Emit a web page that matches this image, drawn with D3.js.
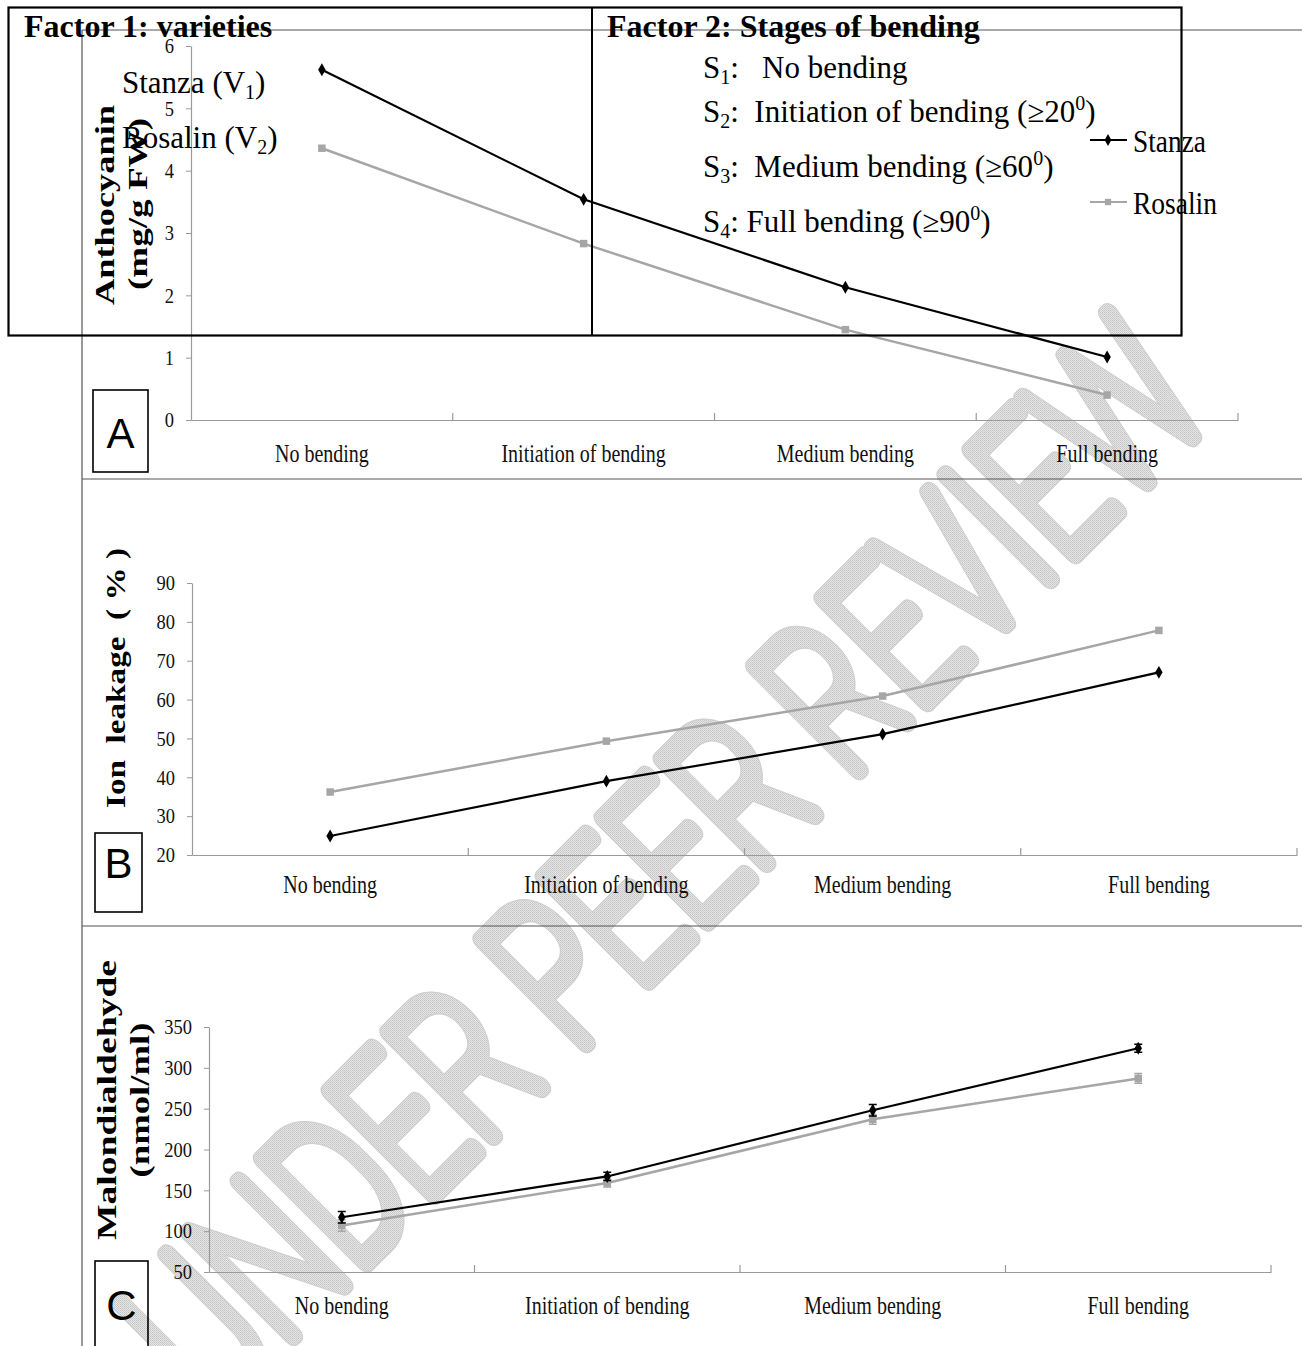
<!DOCTYPE html>
<html>
<head>
<meta charset="utf-8">
<script src="https://cdnjs.cloudflare.com/ajax/libs/d3/7.8.5/d3.min.js"></script>
<style>
  body { margin: 0; background: #fff; }
  svg { display: block; }
  text { white-space: pre; }
</style>
</head>
<body>
<svg id="fig" width="1302" height="1346"></svg>
<script>
// ---- data ----
const stages = ["No bending", "Initiation of bending", "Medium bending", "Full bending"];
const varieties = ["Stanza", "Rosalin"];

const anthoStanza  = [5.62, 3.54, 2.13, 1.01];
const anthoRosalin = [4.36, 2.83, 1.45, 0.40];
const anthoTicks   = [0, 1, 2, 3, 4, 5, 6];

const ionStanza  = [24.9, 39.0, 51.1, 67.0];
const ionRosalin = [36.2, 49.3, 60.9, 77.8];
const ionTicks   = [20, 30, 40, 50, 60, 70, 80, 90];

const mdaStanza     = [117, 167, 248, 324];
const mdaRosalin    = [107, 159, 237, 287];
const mdaStanzaErr  = [7, 5, 7, 5];
const mdaRosalinErr = [7, 5, 6, 6];
const mdaTicks      = [50, 100, 150, 200, 250, 300, 350];

// ---- styling ----
const SERIF = "'Liberation Serif', 'Times New Roman', serif";
const NARROW = "'Liberation Sans Narrow', 'Liberation Sans', sans-serif";
const axisColor = "#9a9a9a";
const stanzaColor = "#000";
const rosalinColor = "#a6a6a6";

const svg = d3.select("#fig");

function condense(sel, k) {
  sel.each(function () {
    const w = this.getComputedTextLength();
    d3.select(this).attr("textLength", w * k).attr("lengthAdjust", "spacingAndGlyphs");
  });
}

// pick the lightest installed sans weight for the monoline stamp
function thinFamily() {
  const ctx = document.createElement("canvas").getContext("2d");
  const probe = "UNDER PEER REVIEW mwi";
  const fams = ["Roboto", "Lato", "Inter", "DejaVu Sans", "Open Sans"];
  for (const f of fams) {
    ctx.font = `400 100px '${f}', monospace`;
    const reg = ctx.measureText(probe).width;
    ctx.font = `100 100px '${f}', monospace`;
    const thin = ctx.measureText(probe).width;
    if (Math.abs(reg - thin) > 0.5) return { family: f, weight: 100 };
  }
  return { family: "Open Sans", weight: 300 };
}

// fine dotted texture for the diagonal stamp
const defs = svg.append("defs");
const hatch = defs.append("pattern")
  .attr("id", "hatch").attr("width", 2).attr("height", 2)
  .attr("patternUnits", "userSpaceOnUse").attr("patternTransform", "rotate(45)");
hatch.append("rect").attr("width", 2).attr("height", 2).attr("fill", "#e6e6e6");
hatch.append("rect").attr("width", 1).attr("height", 1).attr("fill", "#c4c4c4");
hatch.append("rect").attr("x", 1).attr("y", 1).attr("width", 1).attr("height", 1).attr("fill", "#cdcdcd");

// diagonal stamp behind everything: a soft rim, then the textured body
const thin = thinFamily();
const stampText = "UNDER PEER REVIEW";
[{ paint: "#cfcfcf", w: 21 }, { paint: "url(#hatch)", w: 18 }].forEach(layer => {
  svg.append("text")
    .text(stampText)
    .attr("transform", "translate(662,862) rotate(-45)")
    .attr("text-anchor", "middle")
    .attr("dy", "0.36em")
    .style("font-family", `'${thin.family}', sans-serif`)
    .style("font-weight", thin.weight)
    .style("font-size", "205px")
    .attr("fill", layer.paint)
    .attr("stroke", layer.paint)
    .attr("stroke-width", layer.w)
    .attr("stroke-linejoin", "round")
    .attr("stroke-linecap", "round")
    .attr("textLength", 1420)
    .attr("lengthAdjust", "spacingAndGlyphs");
});

// table rules framing the three panels
const frame = svg.append("g").attr("stroke", "#555").attr("stroke-width", 1.2);
frame.append("line").attr("x1", 82).attr("y1", 30).attr("x2", 82).attr("y2", 1346);
[30, 479, 926].forEach(yy =>
  frame.append("line").attr("x1", 82).attr("y1", yy).attr("x2", 1302).attr("y2", yy));

// ---- panels ----
const panels = [
  { letter: "A", stanza: anthoStanza, rosalin: anthoRosalin, ticks: anthoTicks,
    x0: 191, x1: 1238, yTop: 46, yBot: 420, labelY: 462,
    titles: [{ t: "Anthocyanin", x: 105, y: 205, len: 200 }, { t: "(mg/g FW)", x: 138, y: 204, len: 172 }],
    box: { x: 93, y: 390, w: 55, h: 82, ty: 448 } },
  { letter: "B", stanza: ionStanza, rosalin: ionRosalin, ticks: ionTicks,
    x0: 192, x1: 1297, yTop: 583, yBot: 855, labelY: 893,
    titles: [{ t: "Ion  leakage  ( % )", x: 116, y: 678, len: 260 }],
    box: { x: 95, y: 833, w: 47, h: 79, ty: 878 } },
  { letter: "C", stanza: mdaStanza, rosalin: mdaRosalin, ticks: mdaTicks,
    errS: mdaStanzaErr, errR: mdaRosalinErr,
    x0: 209, x1: 1271, yTop: 1027, yBot: 1272, labelY: 1314,
    titles: [{ t: "Malondialdehyde", x: 107, y: 1100, len: 280 }, { t: "(nmol/ml)", x: 140, y: 1100, len: 155 }],
    box: { x: 95, y: 1261, w: 53, h: 90, ty: 1320 } }
];

panels.forEach(p => {
  const g = svg.append("g");
  const x = d3.scaleBand().domain(stages).range([p.x0, p.x1]);
  const y = d3.scaleLinear().domain(d3.extent(p.ticks)).range([p.yBot, p.yTop]);
  const cx = s => x(s) + x.bandwidth() / 2;

  // y axis
  const ya = g.append("g").attr("transform", `translate(${p.x0},0)`)
    .call(d3.axisLeft(y).tickValues(p.ticks).tickFormat(d3.format("d"))
      .tickSize(5).tickSizeOuter(0).tickPadding(12));
  ya.select(".domain").attr("stroke", axisColor).attr("stroke-width", 1.2);
  ya.selectAll(".tick line").attr("stroke", axisColor);
  ya.selectAll(".tick text").attr("fill", "#111")
    .style("font-family", SERIF).style("font-size", "21px").call(condense, 0.88);

  // x axis with category labels
  const xa = g.append("g").attr("transform", `translate(0,${p.yBot})`)
    .call(d3.axisBottom(x).tickSize(0).tickSizeOuter(0));
  xa.select(".domain").attr("stroke", axisColor).attr("stroke-width", 1.2);
  xa.selectAll(".tick text").attr("fill", "#111").attr("dy", null)
    .attr("y", p.labelY - p.yBot)
    .style("font-family", SERIF).style("font-size", "25px").call(condense, 0.8);
  // band separator ticks pointing up
  g.append("g").selectAll("line").data(stages).join("line")
    .attr("x1", s => x(s) + x.bandwidth()).attr("x2", s => x(s) + x.bandwidth())
    .attr("y1", p.yBot).attr("y2", p.yBot - 7)
    .attr("stroke", axisColor).attr("stroke-width", 1.2);

  const line = d3.line().x((d, i) => cx(stages[i])).y(d => y(d));
  const errPath = (vals, errs) => (d, i) => {
    const xx = cx(stages[i]), a = y(d - errs[i]), b = y(d + errs[i]);
    return `M${xx - 4},${a}H${xx + 4}M${xx},${a}V${b}M${xx - 4},${b}H${xx + 4}`;
  };

  // Rosalin
  if (p.errR) {
    g.append("g").selectAll("path").data(p.rosalin).join("path")
      .attr("d", errPath(p.rosalin, p.errR))
      .attr("stroke", rosalinColor).attr("stroke-width", 1.5).attr("fill", "none");
  }
  g.append("path").datum(p.rosalin).attr("d", line)
    .attr("fill", "none").attr("stroke", rosalinColor).attr("stroke-width", 2.5);
  g.append("g").selectAll("path").data(p.rosalin).join("path")
    .attr("transform", (d, i) => `translate(${cx(stages[i])},${y(d)})`)
    .attr("d", d3.symbol(d3.symbolSquare, 56))
    .attr("fill", rosalinColor);

  // Stanza
  if (p.errS) {
    g.append("g").selectAll("path").data(p.stanza).join("path")
      .attr("d", errPath(p.stanza, p.errS))
      .attr("stroke", stanzaColor).attr("stroke-width", 1.5).attr("fill", "none");
  }
  g.append("path").datum(p.stanza).attr("d", line)
    .attr("fill", "none").attr("stroke", stanzaColor).attr("stroke-width", 2.2);
  g.append("g").selectAll("path").data(p.stanza).join("path")
    .attr("transform", (d, i) => `translate(${cx(stages[i])},${y(d)})`)
    .attr("d", d3.symbol(d3.symbolDiamond, 48))
    .attr("fill", stanzaColor);

  // rotated axis titles
  p.titles.forEach(t => {
    g.append("text").text(t.t)
      .attr("transform", `translate(${t.x},${t.y}) rotate(-90)`)
      .attr("text-anchor", "middle").attr("dy", "0.35em")
      .style("font-family", SERIF).style("font-weight", "bold").style("font-size", "27px")
      .attr("textLength", t.len).attr("lengthAdjust", "spacingAndGlyphs");
  });

  // panel letter
  g.append("rect").attr("x", p.box.x).attr("y", p.box.y).attr("width", p.box.w).attr("height", p.box.h)
    .attr("fill", "none").attr("stroke", "#000").attr("stroke-width", 1.6);
  g.append("text").text(p.letter)
    .attr("x", p.box.x + p.box.w / 2).attr("y", p.box.ty)
    .attr("text-anchor", "middle")
    .style("font-family", NARROW).style("font-size", "42px");
});

// ---- factor description box over panel A ----
const key = svg.append("g");
key.append("rect").attr("x", 8.5).attr("y", 7.5).attr("width", 1173).attr("height", 328)
  .attr("fill", "none").attr("stroke", "#000").attr("stroke-width", 2.2);
key.append("line").attr("x1", 592).attr("y1", 7.5).attr("x2", 592).attr("y2", 335.5)
  .attr("stroke", "#000").attr("stroke-width", 2);

const headingSize = "32px";
key.append("text").text("Factor 1: varieties").attr("x", 24).attr("y", 37)
  .style("font-family", SERIF).style("font-weight", "bold").style("font-size", headingSize);
key.append("text").text("Factor 2: Stages of bending").attr("x", 607).attr("y", 37)
  .style("font-family", SERIF).style("font-weight", "bold").style("font-size", headingSize);

// text with subscript / superscript pieces: [string, shift]
function richLine(xx, yy, parts) {
  const t = key.append("text").attr("x", xx).attr("y", yy)
    .style("font-family", SERIF).style("font-size", "31px");
  let cur = 0;
  parts.forEach(([s, shift]) => {
    const ts = t.append("tspan").text(s).attr("dy", shift - cur);
    if (shift !== 0) ts.style("font-size", "20px");
    cur = shift;
  });
  return t;
}
const varietyCodes = ["1", "2"];
richLine(122, 93, [["Stanza (V", 0], [varietyCodes[0], 6], [")", 0]]);
richLine(122, 148, [["Rosalin (V", 0], [varietyCodes[1], 6], [")", 0]]);

const stageCodes = ["1", "2", "3", "4"];
const stageAngles = ["20", "60", "90"];
richLine(703, 78,  [["S", 0], [stageCodes[0], 6], [":   " + stages[0], 0]]);
richLine(703, 122, [["S", 0], [stageCodes[1], 6], [":  " + stages[1] + " (\u2265" + stageAngles[0], 0], ["0", -12], [")", 0]]);
richLine(703, 177, [["S", 0], [stageCodes[2], 6], [":  " + stages[2] + " (\u2265" + stageAngles[1], 0], ["0", -12], [")", 0]]);
richLine(703, 232, [["S", 0], [stageCodes[3], 6], [": " + stages[3] + " (\u2265" + stageAngles[2], 0], ["0", -12], [")", 0]]);

// series legend
const legendRows = [
  { name: varieties[0], color: stanzaColor, sym: d3.symbolDiamond, size: 40, y: 140, w: 73 },
  { name: varieties[1], color: rosalinColor, sym: d3.symbolSquare, size: 40, y: 202, w: 84 }
];
legendRows.forEach(r => {
  key.append("line").attr("x1", 1090).attr("x2", 1127).attr("y1", r.y).attr("y2", r.y)
    .attr("stroke", r.color).attr("stroke-width", 2.2);
  key.append("path").attr("transform", `translate(1108,${r.y})`)
    .attr("d", d3.symbol(r.sym, r.size)).attr("fill", r.color);
  key.append("text").text(r.name).attr("x", 1133).attr("y", r.y + 12)
    .style("font-family", SERIF).style("font-size", "32px")
    .attr("textLength", r.w).attr("lengthAdjust", "spacingAndGlyphs");
});
</script>
</body>
</html>
